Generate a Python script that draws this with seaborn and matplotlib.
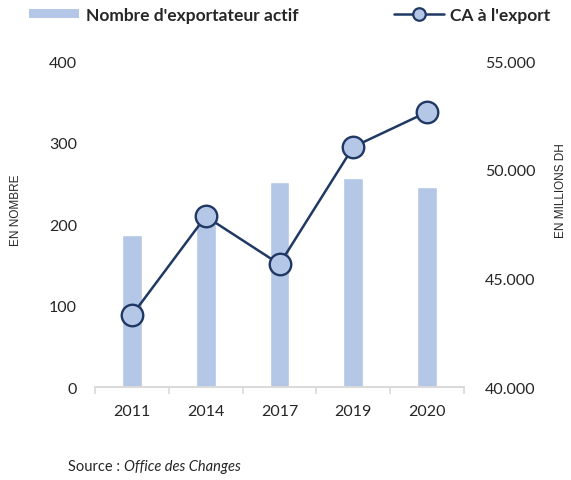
import matplotlib
matplotlib.use("Agg")
import matplotlib.pyplot as plt
import seaborn as sns
import pandas as pd
from matplotlib.lines import Line2D
from matplotlib.patches import Patch
from matplotlib.ticker import FuncFormatter, FixedLocator

# Données
annees       = ["2011", "2014", "2017", "2019", "2020"]
exportateurs = [186, 212, 252, 257, 246]
ca_export    = [43300, 47850, 45650, 51050, 52650]

BAR_COLOR  = "#B4C7E7"
LINE_COLOR = "#203864"
TXT_COLOR  = "#262626"

df = pd.DataFrame({"annee": annees, "nb": exportateurs, "ca": ca_export})

sns.set_style("white")
plt.rcParams["font.family"] = ["Lato", "DejaVu Sans"]

fig = plt.figure(figsize=(5.71, 4.81), dpi=100)
ax = fig.add_axes([0.1664, 0.1933, 0.6462, 0.6778])

sns.barplot(data=df, x="annee", y="nb", color=BAR_COLOR, width=0.27,
            saturation=1, ax=ax, zorder=1)

ax2 = ax.twinx()
sns.pointplot(data=df, x="annee", y="ca", color=LINE_COLOR, ax=ax2,
              markers="o", markersize=15.5, linewidth=1.8,
              markerfacecolor=BAR_COLOR, markeredgecolor=LINE_COLOR,
              markeredgewidth=1.7, errorbar=None)

ax.set_xlim(-0.5, 4.5)
ax.set_ylim(0, 400)
ax.set_yticks([0, 100, 200, 300, 400])
ax2.set_ylim(40000, 55000)
ax2.set_yticks([40000, 45000, 50000, 55000])
ax2.yaxis.set_major_formatter(FuncFormatter(lambda v, p: f"{int(v):,}".replace(",", ".")))

for a in (ax, ax2):
    for s in ["top", "left", "right"]:
        a.spines[s].set_visible(False)
    a.spines["bottom"].set_color("#D9D9D9")
    a.spines["bottom"].set_linewidth(1.2)
    a.set_xlabel("")
    a.grid(False)

ax.tick_params(axis="y", length=0, pad=13, labelsize=11.5, labelcolor=TXT_COLOR)
ax2.tick_params(axis="y", length=0, pad=15, labelsize=11.5, labelcolor=TXT_COLOR)
ax.tick_params(axis="x", which="major", length=0, pad=12, labelsize=11.5, labelcolor=TXT_COLOR)
ax.xaxis.set_minor_locator(FixedLocator([-0.5, 0.5, 1.5, 2.5, 3.5, 4.5]))
ax.tick_params(axis="x", which="minor", bottom=True, length=5, width=1.2,
               color="#D9D9D9", direction="out")

ax.set_ylabel("EN NOMBRE", family="Liberation Sans", fontsize=8.5, color=TXT_COLOR,
              va="center")
ax2.set_ylabel("EN MILLIONS DH", family="Liberation Sans", fontsize=8.5, color=TXT_COLOR,
               va="center", rotation=90)
ax.yaxis.set_label_coords((16 - 95) / 369, (388 - 210) / 326)
ax2.yaxis.set_label_coords((561 - 95) / 369, (388 - 191) / 326)

# Légende
h1 = Patch(facecolor=BAR_COLOR, edgecolor="none")
h2 = Line2D([], [], color=LINE_COLOR, linewidth=1.8, marker="o", markersize=9,
            markerfacecolor=BAR_COLOR, markeredgecolor=LINE_COLOR, markeredgewidth=1.6)
fig.legend([h1], ["Nombre d'exportateur actif"], loc="center left",
           bbox_to_anchor=(29 / 571, 1 - 16 / 481), frameon=False,
           prop={"weight": "bold", "size": 12.5}, handlelength=2.9,
           handleheight=0.45, handletextpad=0.4, borderpad=0, borderaxespad=0,
           labelcolor=TXT_COLOR)
fig.legend([h2], ["CA à l'export"], loc="center left",
           bbox_to_anchor=(394 / 571, 1 - 16 / 481), frameon=False,
           prop={"weight": "bold", "size": 12.5}, handlelength=2.9,
           handletextpad=0.3, borderpad=0, borderaxespad=0,
           labelcolor=TXT_COLOR)

# Source
t1 = fig.text(68 / 571, 1 - 467 / 481, "Source :", fontsize=10.5, color=TXT_COLOR, va="center")
fig.canvas.draw()
bb = t1.get_window_extent()
fig.text((bb.x1 + 4) / 571, 1 - 467 / 481, "Office des Changes", fontsize=10.5,
         style="italic", color=TXT_COLOR, va="center")

fig.savefig("out.png", dpi=100)
